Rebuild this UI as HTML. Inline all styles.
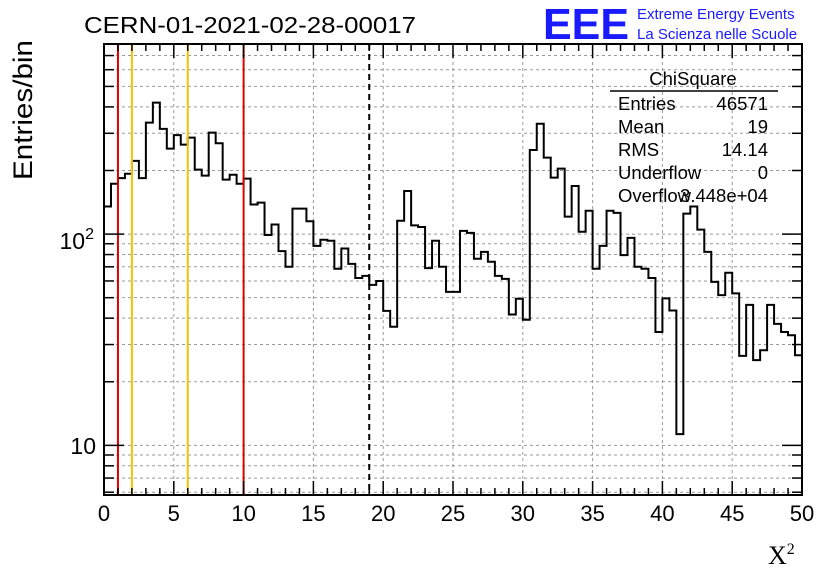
<!DOCTYPE html>
<html><head><meta charset="utf-8"><style>
body{margin:0;background:#fff;}
svg{display:block;font-family:"Liberation Sans",sans-serif;}
</style></head><body>
<svg id="c" width="836" height="572"></svg>
<script>
const binLow = 0, binWidth = 0.5;
const counts = [135,173,184,193,222,184,337,419,315,254,294,265,286,202,189,302,269,181,191,173,
183,138,141,99,111,83,70,132,132,115,88,94,93,68.5,85.5,72.3,62,63.4,57.5,60,
43.3,36.4,115.6,160,110,108,69,93,70,53.3,53.3,103.6,101.4,76.4,82.4,74,63.4,61.4,41.6,49.4,
39.3,250,333,230,185,204,121,169,102.6,129,68.5,88,129,126,79.5,96,70,68.5,62,34.4,
49.6,43.5,11.3,125,135,105,82.4,59.4,51.4,65.6,52.4,26.5,46.2,25.3,28.2,46.2,37.6,34.4,33.2,26.7];
const xTicks = [0,5,10,15,20,25,30,35,40,45,50];
const markerRed = [1,10];
const markerOrange = [2,6];
const meanLine = [19];

const L=104,R=802,T=44,B=495;
const xmin=0,xmax=50, ylmin=Math.log10(5.82), ylmax=Math.log10(794);
const X=v=>L+(v-xmin)/(xmax-xmin)*(R-L);
const Y=v=>B-(Math.log10(v)-ylmin)/(ylmax-ylmin)*(B-T);
const s=document.getElementById('c');
const NS="http://www.w3.org/2000/svg";
function el(t,a,txt){const e=document.createElementNS(NS,t);for(const k in a)e.setAttribute(k,a[k]);if(txt!==undefined)e.textContent=txt;s.appendChild(e);return e;}

const yT=[];for(let d=1;d<=100;d*=10)for(let m=1;m<10;m++){const v=m*d;if(v>=5.82&&v<=794)yT.push(v);}
for(const v of xTicks){if(v===0||v===50)continue;const g=el('line',{x1:X(v),x2:X(v),y1:T,y2:B,stroke:'#999','stroke-dasharray':'3,3','stroke-width':1});

}
for(const v of yT){const g=el('line',{x1:L,x2:R,y1:Y(v),y2:Y(v),stroke:'#999','stroke-dasharray':'3,3','stroke-width':1});

}

let d='M'+X(binLow)+','+B;
counts.forEach((c,i)=>{const x0=X(binLow+i*binWidth),x1=X(binLow+(i+1)*binWidth);d+=' L'+x0+','+Y(c)+' L'+x1+','+Y(c);});
d+=' L'+X(binLow+counts.length*binWidth)+','+B;
const h=el('path',{d:d,fill:'none',stroke:'#000','stroke-width':2});



for(const v of markerRed){const m=el('line',{x1:X(v),x2:X(v),y1:T,y2:B,stroke:'#e00000','stroke-width':2});

}
for(const v of markerOrange){const m=el('line',{x1:X(v),x2:X(v),y1:T,y2:B,stroke:'#f5c400','stroke-width':2});

}
for(const v of meanLine){const m=el('line',{x1:X(v),x2:X(v),y1:T,y2:B,stroke:'#000','stroke-width':2,'stroke-dasharray':'6,4'});

}

const f=el('rect',{x:L,y:T,width:R-L,height:B-T,fill:'none',stroke:'#000','stroke-width':2});



for(let v=0;v<=50;v+=1){const major=v%5===0;const len=major?14:7;
const t=el('line',{x1:X(v),x2:X(v),y1:B,y2:B-len,stroke:'#000','stroke-width':1.5});


const t2=el('line',{x1:X(v),x2:X(v),y1:T,y2:T+len,stroke:'#000','stroke-width':1.5});

}
for(const v of xTicks){const lb=el('text',{x:X(v),y:521,'font-size':22,'text-anchor':'middle'},String(v));

}
for(const v of yT){const major=(v===10||v===100);const len=major?20:10;
const t=el('line',{x1:L,x2:L+len,y1:Y(v),y2:Y(v),stroke:'#000','stroke-width':1.5});


const t2=el('line',{x1:R,x2:R-len,y1:Y(v),y2:Y(v),stroke:'#000','stroke-width':1.5});

}
</script>
<svg width="836" height="572" style="position:absolute;left:0;top:0;font-family:'Liberation Sans',sans-serif">
<text x="94" y="249" font-size="23" text-anchor="end">10<tspan dy="-10" font-size="16">2</tspan></text>
<text x="96" y="454" font-size="23" text-anchor="end">10</text>
<text transform="translate(32,110) rotate(-90)" font-size="27" text-anchor="middle" textLength="140" lengthAdjust="spacingAndGlyphs">Entries/bin</text>
<text x="768" y="564" font-size="26" font-family="Liberation Serif,serif">X<tspan dy="-10" font-size="16">2</tspan></text>
<text x="84" y="33" font-size="23" textLength="332" lengthAdjust="spacingAndGlyphs">CERN-01-2021-02-28-00017</text>
<text x="543" y="39" font-size="44" font-weight="bold" fill="#1a1aff" textLength="86" lengthAdjust="spacingAndGlyphs">EEE</text>
<text x="637" y="19" font-size="15" fill="#1a1aff">Extreme Energy Events</text>
<text x="637" y="39" font-size="15" fill="#1a1aff">La Scienza nelle Scuole</text>
<g font-size="18.5">
<text x="693" y="85" text-anchor="middle">ChiSquare</text>
<line x1="610" x2="778" y1="91" y2="91" stroke="#000" stroke-width="1.5"/>
<text x="618" y="110">Entries</text><text x="768" y="110" text-anchor="end">46571</text>
<text x="618" y="133">Mean</text><text x="768" y="133" text-anchor="end">19</text>
<text x="618" y="156">RMS</text><text x="768" y="156" text-anchor="end">14.14</text>
<text x="618" y="179">Underflow</text><text x="768" y="179" text-anchor="end">0</text>
<text x="618" y="202">Overflow</text><text x="768" y="202" text-anchor="end">3.448e+04</text>
</g>
</svg>
</body></html>
